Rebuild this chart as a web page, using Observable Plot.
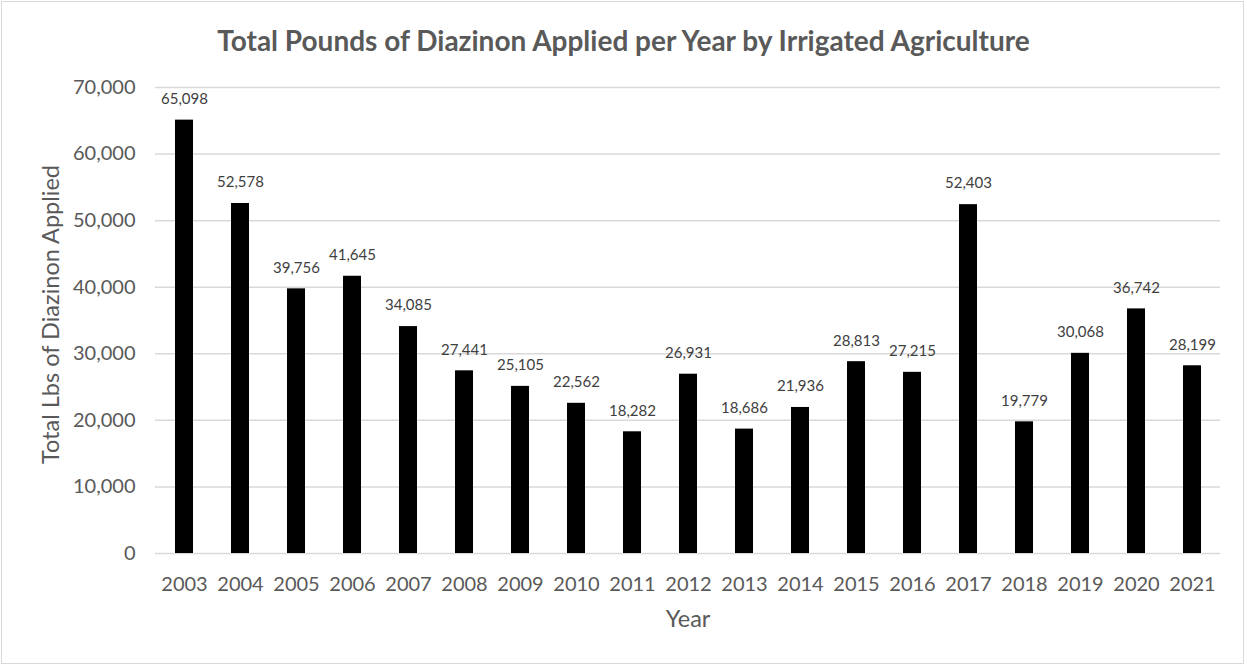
<!DOCTYPE html>
<html>
<head>
<meta charset="utf-8">
<script src="https://cdn.jsdelivr.net/npm/d3@7"></script>
<script src="https://cdn.jsdelivr.net/npm/@observablehq/plot@0.6"></script>
<style>
  html, body { margin: 0; padding: 0; background: #fff; }
  #wrap { position: relative; width: 1247px; height: 667px; overflow: hidden; }
  #frame { position: absolute; left: 1px; top: 1px; width: 1243px; height: 663px; border: 1.5px solid #d9d9d9; box-sizing: border-box; pointer-events: none; }
  #title { position: absolute; left: 0; top: 23px; width: 1247px; text-align: center;
    font-family: Lato, sans-serif; font-weight: bold; font-size: 28px; line-height: 34px; color: #595959; }
  #chart { position: absolute; left: 0; top: 0; }
</style>
</head>
<body>
<div id="wrap">
  <div id="title">Total Pounds of Diazinon Applied per Year by Irrigated Agriculture</div>
  <div id="chart"></div>
  <div id="frame"></div>
</div>
<script>
const years = ["2003","2004","2005","2006","2007","2008","2009","2010","2011","2012","2013","2014","2015","2016","2017","2018","2019","2020","2021"];
const pounds = [65098, 52578, 39756, 41645, 34085, 27441, 25105, 22562, 18282, 26931, 18686, 21936, 28813, 27215, 52403, 19779, 30068, 36742, 28199];
const yTicks = [0, 10000, 20000, 30000, 40000, 50000, 60000, 70000];
const yTitle = "Total Lbs of Diazinon Applied";
const xTitle = "Year";

const data = years.map((y, i) => ({year: y, value: pounds[i]}));
const fmt = d3.format(",");

const chart = Plot.plot({
  width: 1247,
  height: 667,
  marginLeft: 155,
  marginRight: 27,
  marginTop: 87,
  marginBottom: 114,
  style: {fontFamily: "Lato, sans-serif", color: "#595959", background: "transparent"},
  x: {domain: years, paddingInner: 0.68, paddingOuter: 0.34, label: null},
  y: {domain: [0, 70000], label: null},
  marks: [
    Plot.gridY(yTicks, {stroke: "#d9d9d9", strokeOpacity: 1, strokeWidth: 1.5}),
    Plot.barY(data, {x: "year", y: "value", fill: "#000"}),
    Plot.text(data, {x: "year", y: "value", text: d => fmt(d.value), dy: -21, fontSize: 15, fill: "#404040"}),
    Plot.axisY(yTicks, {tickSize: 0, tickPadding: 20, tickFormat: d => fmt(d), fontSize: 20, fill: "#595959", label: null}),
    Plot.axisX({tickSize: 0, tickPadding: 23, fontSize: 20, fill: "#595959", label: null}),
    Plot.text([yTitle], {frameAnchor: "left", dx: -104, dy: -6, rotate: -90, textAnchor: "middle", fontSize: 23.5, fill: "#595959"}),
    Plot.text([xTitle], {frameAnchor: "bottom", dy: 73, fontSize: 23.5, fill: "#595959"})
  ]
});
document.getElementById("chart").appendChild(chart);
</script>
</body>
</html>
